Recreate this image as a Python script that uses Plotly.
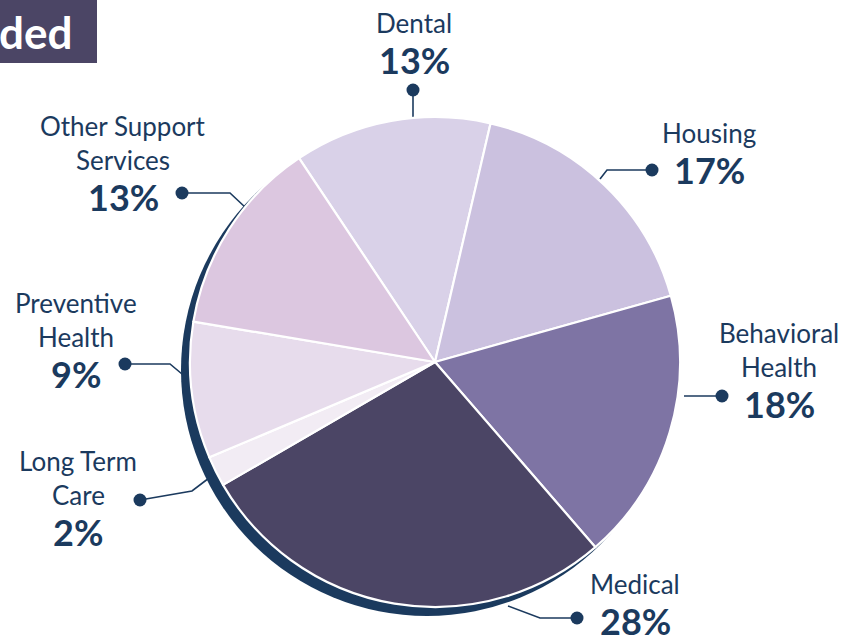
import plotly.graph_objects as go

W, H = 842, 643

# ---------------------------------------------------------------------------
# Data
# ---------------------------------------------------------------------------

categories = ["Dental", "Housing", "Behavioral Health", "Medical",
              "Long Term Care", "Preventive Health", "Other Support Services"]
shares = [13, 17, 18, 28, 2, 9, 13]
slice_colors = ["#d9d1e8", "#cbc1df", "#7e74a4", "#4b4565",
                "#f2ecf4", "#e7dcec", "#dcc7e0"]

# how each label is broken over lines
name_lines = {
    "Dental": ["Dental"],
    "Housing": ["Housing"],
    "Behavioral Health": ["Behavioral", "Health"],
    "Medical": ["Medical"],
    "Long Term Care": ["Long Term", "Care"],
    "Preventive Health": ["Preventive", "Health"],
    "Other Support Services": ["Other Support", "Services"],
}

# ---------------------------------------------------------------------------
# Layout (pixel positions on an 842x643 canvas)
# ---------------------------------------------------------------------------

NAVY = "#1b3a5e"
FONT = "Lato"

PIE_CX, PIE_CY, PIE_R = 435, 362, 245
SHADOW_DX, SHADOW_DY = -8, 8

# (x centre, y of the percentage line)
label_anchor = {
    "Dental": (414, 60),
    "Housing": (709, 170),
    "Behavioral Health": (779, 404),
    "Medical": (635, 621),
    "Long Term Care": (78, 532),
    "Preventive Health": (76, 374),
    "Other Support Services": (123, 197),
}

# leader line paths, first point is the dot
leaders = {
    "Dental": [(413, 90), (413, 118)],
    "Housing": [(652, 170), (607, 170), (600, 179)],
    "Behavioral Health": [(722, 396), (684, 396)],
    "Medical": [(577, 618), (540, 618), (508, 606)],
    "Long Term Care": [(140, 500), (192, 491), (213, 475)],
    "Preventive Health": [(125, 364), (170, 364), (188, 379)],
    "Other Support Services": [(182, 193), (230, 193), (246, 208)],
}


def _px_x(x):
    return x / W


def _px_y(y):
    return 1 - y / H


fig = go.Figure()

# leader lines + dots on a hidden pixel axis
for name in categories:
    pts = leaders[name]
    fig.add_trace(go.Scatter(
        x=[p[0] for p in pts], y=[p[1] for p in pts], mode="lines",
        line=dict(color=NAVY, width=1.6), hoverinfo="skip", showlegend=False,
    ))
    fig.add_trace(go.Scatter(
        x=[pts[0][0]], y=[pts[0][1]], mode="markers",
        marker=dict(color=NAVY, size=13), hoverinfo="skip", showlegend=False,
    ))

fig.add_trace(go.Pie(
    labels=categories, values=shares, sort=False,
    direction="clockwise", rotation=326.3,
    marker=dict(colors=slice_colors, line=dict(color="white", width=2.2)),
    textinfo="none", hoverinfo="label+percent", showlegend=False,
    domain=dict(
        x=[_px_x(PIE_CX - PIE_R), _px_x(PIE_CX + PIE_R)],
        y=[_px_y(PIE_CY + PIE_R), _px_y(PIE_CY - PIE_R)],
    ),
))

# navy drop shadow behind the pie
fig.add_shape(
    type="circle", xref="x", yref="y", layer="below",
    x0=PIE_CX - PIE_R - 1 + SHADOW_DX, x1=PIE_CX + PIE_R + 1 + SHADOW_DX,
    y0=PIE_CY - PIE_R - 1 + SHADOW_DY, y1=PIE_CY + PIE_R + 1 + SHADOW_DY,
    fillcolor=NAVY, line=dict(width=0),
)

# cropped title tab
fig.add_shape(
    type="rect", xref="x", yref="y", layer="below",
    x0=0, x1=97, y0=0, y1=63, fillcolor="#4b4565", line=dict(width=0),
)
fig.add_annotation(
    x=_px_x(-3), y=_px_y(32), xref="paper", yref="paper",
    xanchor="left", yanchor="middle",
    text="<b>ded</b>", showarrow=False,
    font=dict(family=FONT, size=44, color="white"),
)

# category labels
for name, value in zip(categories, shares):
    cx, py = label_anchor[name]
    lines = name_lines[name]
    n = len(lines)
    for i, line in enumerate(lines):
        fig.add_annotation(
            x=cx, y=py - 37 - 34 * (n - 1 - i), xref="x", yref="y",
            text=line, showarrow=False, xanchor="center", yanchor="middle",
            font=dict(family=FONT, size=26, color=NAVY), borderpad=0,
        )
    fig.add_annotation(
        x=cx, y=py, xref="x", yref="y",
        text=f"<b>{value}%</b>", showarrow=False,
        xanchor="center", yanchor="middle", borderpad=0,
        font=dict(family=FONT, size=36, color=NAVY),
    )

fig.update_xaxes(range=[0, W], visible=False, fixedrange=True)
fig.update_yaxes(range=[H, 0], visible=False, fixedrange=True)
fig.update_layout(
    width=W, height=H,
    margin=dict(l=0, r=0, t=0, b=0),
    paper_bgcolor="white", plot_bgcolor="white",
    showlegend=False,
)

# the page body has a default 8px margin; drop it so the canvas sits at 0,0
fig.write_html(
    "out.html",
    config={"displayModeBar": False},
    post_script="document.body.style.margin = '0';",
)
